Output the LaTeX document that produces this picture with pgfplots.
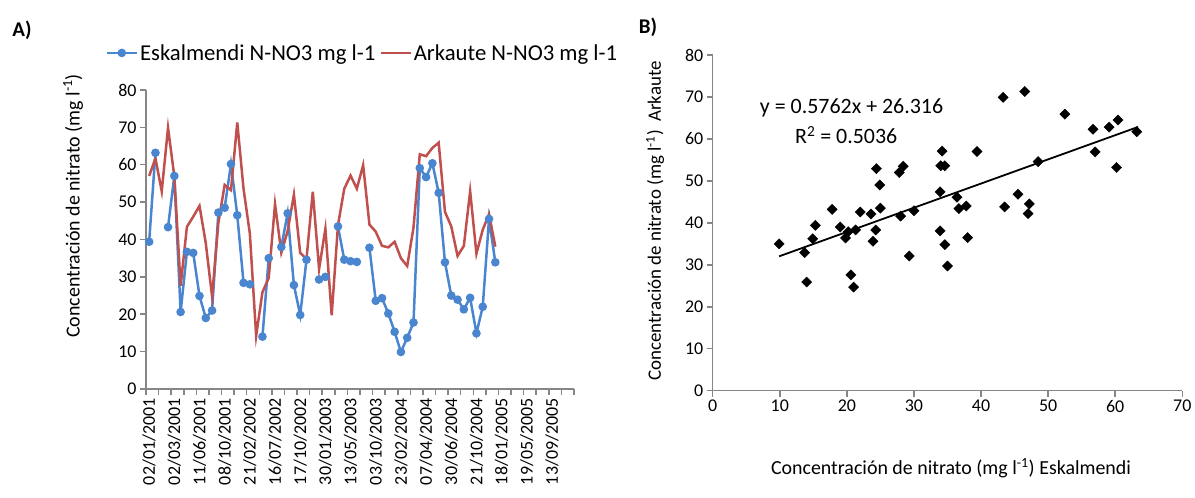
\documentclass[border=0pt]{standalone}
\usepackage{pgfplots}
\pgfplotsset{compat=1.18}
\usepackage{pgfplotstable}
\usepackage{fontspec}
\setmainfont{Carlito}
\definecolor{eblue}{RGB}{74,134,208}
\definecolor{ared}{RGB}{192,80,77}
\definecolor{axgray}{RGB}{134,134,134}

\pgfplotstableread{
i esk ark
0 39.4 57.0
1 63.2 61.7
2 nan 52.9
3 43.3 69.9
4 57.0 56.9
5 20.6 27.6
6 36.7 43.4
7 36.4 46.1
8 24.9 49.0
9 19.0 39.0
10 21.0 24.7
11 47.2 44.5
12 48.5 54.6
13 60.2 53.2
14 46.5 71.3
15 28.4 53.5
16 28.0 41.6
17 nan 14.2
18 14.0 25.9
19 35.0 29.7
20 nan 49.5
21 38.0 36.5
22 47.0 42.2
23 27.8 52.0
24 19.8 36.4
25 34.6 34.8
26 nan 52.8
27 29.3 32.1
28 30.0 42.9
29 nan 19.7
30 43.5 43.8
31 34.6 53.6
32 34.2 57.1
33 34.0 53.6
34 nan 59.9
35 37.8 44.0
36 23.6 42.1
37 24.3 38.3
38 20.2 37.9
39 15.3 39.4
40 9.9 35.0
41 13.7 32.9
42 17.8 43.2
43 59.1 62.8
44 56.7 62.3
45 60.4 64.5
46 52.5 65.9
47 33.9 47.4
48 25.0 43.5
49 23.9 35.6
50 21.3 38.3
51 24.4 52.9
52 14.9 36.2
53 22.0 42.6
54 45.5 46.8
55 33.9 38.1
}\datatab

\begin{document}
\begin{tikzpicture}[x=1bp,y=1bp]
\path[use as bounding box] (0,0) rectangle (1195,498);
\node[font=\fontsize{21}{24}\selectfont\bfseries] at (22,468) {A)};
\node[font=\fontsize{21}{24}\selectfont\bfseries] at (648,471) {B)};
\node[rotate=90,font=\fontsize{20}{23}\selectfont] at (73,292) {Concentración de nitrato (mg l\textsuperscript{-1})};
\node[rotate=90,font=\fontsize{19}{22}\selectfont] at (655,277) {Concentración de nitrato (mg l\textsuperscript{-1})\ \ Arkaute};
\node[font=\fontsize{20}{23}\selectfont] at (951,30) {Concentración de nitrato (mg l\textsuperscript{-1}) Eskalmendi};

\begin{axis}[
  at={(146bp,109bp)}, anchor=south west, scale only axis,
  width=428bp, height=299bp,
  xmin=-0.5, xmax=67.5, ymin=0, ymax=80,
  axis x line=bottom, axis y line=left,
  axis line style={axgray, line width=1.5bp, -},
  xtick={-0.5,1.5,...,67.5}, xticklabels={},
  extra x ticks={0,4,...,64},
  extra x tick labels={02/01/2001,02/03/2001,11/06/2001,08/10/2001,21/02/2002,16/07/2002,17/10/2002,30/01/2003,13/05/2003,03/10/2003,23/02/2004,07/04/2004,30/06/2004,21/10/2004,18/01/2005,19/05/2005,13/09/2005},
  extra x tick style={major tick length=0pt, tick label style={rotate=90, anchor=east, xshift=-6bp}},
  ytick={0,10,...,80},
  tick style={axgray, line width=1.5bp}, major tick length=6bp, tick align=outside,
  tick label style={font=\fontsize{18}{20}\selectfont},
  /pgf/number format/assume math mode=true,
  unbounded coords=jump,
  legend columns=2,
  legend style={at={(-0.095,1.124)}, anchor=west, draw=none, fill=none,
    font=\fontsize{22.8}{25}\selectfont, inner sep=0pt,
    nodes={inner sep=2bp},
    /tikz/every even column/.append style={column sep=2bp}},
  legend image code/.code={\draw[mark repeat=2,mark phase=2,#1] plot coordinates {(0bp,0bp) (15bp,0bp) (30bp,0bp)};},
]
\addplot[eblue, line width=2.5bp, mark=*, mark size=3bp, mark options={fill=eblue, draw=eblue}] table[x=i,y=esk] {\datatab};
\addlegendentry{Eskalmendi N-NO3 mg l-1}
\addplot[ared, line width=2.5bp, no marks] table[x=i,y=ark] {\datatab};
\addlegendentry{Arkaute N-NO3 mg l-1}
\end{axis}

\begin{axis}[
  at={(712.7bp,107.3bp)}, anchor=south west, scale only axis,
  width=469.6bp, height=335.7bp,
  xmin=0, xmax=70, ymin=0, ymax=80,
  axis x line=bottom, axis y line=left,
  axis line style={axgray, line width=1.5bp, -},
  xtick={0,10,...,70}, ytick={0,10,...,80},
  tick style={axgray, line width=1.5bp}, major tick length=6bp, tick align=outside,
  tick label style={font=\fontsize{18}{20}\selectfont},
  /pgf/number format/assume math mode=true,
]
\addplot[only marks, mark=square*, mark size=3.6bp, mark options={rotate=45, fill=black, draw=black}] table[x=esk,y=ark] {\datatab};
\addplot[black, line width=1.8bp] coordinates {(9.9,32.02) (63.4,62.85)};
\node[font=\fontsize{22}{24}\selectfont] at (axis cs:20.7,67.4) {y = 0.5762x + 26.316};
\node[font=\fontsize{22}{24}\selectfont] at (axis cs:19.9,60.9) {R\textsuperscript{2} = 0.5036};
\end{axis}
\end{tikzpicture}
\end{document}
